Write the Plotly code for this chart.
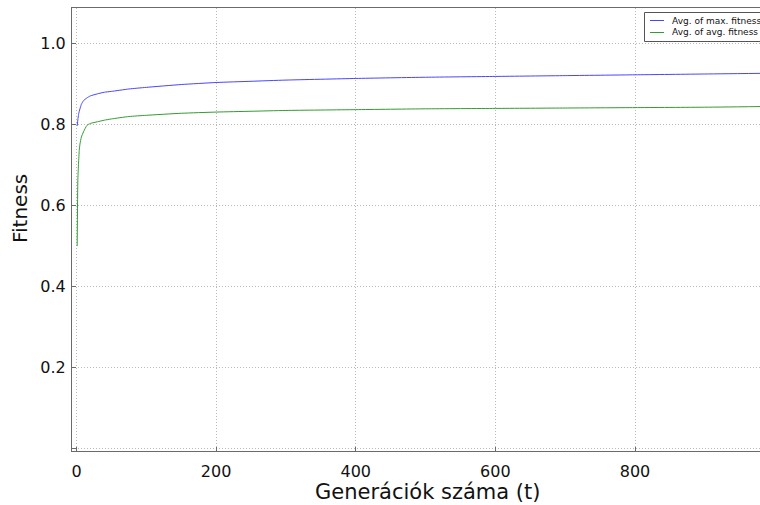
import plotly.graph_objects as go

generations = [1, 2, 3, 4, 5, 7, 10, 15, 20, 30, 40, 50, 75, 100, 150, 200,
               250, 300, 400, 500, 600, 700, 800, 900, 1000]
avg_max_fitness = [0.797, 0.812, 0.825, 0.833, 0.839, 0.850, 0.859, 0.866, 0.871,
                   0.876, 0.880, 0.882, 0.888, 0.892, 0.899, 0.904, 0.907, 0.910,
                   0.914, 0.917, 0.919, 0.921, 0.923, 0.925, 0.927]
avg_avg_fitness = [0.500, 0.665, 0.705, 0.736, 0.752, 0.769, 0.782, 0.798, 0.803,
                   0.807, 0.811, 0.814, 0.820, 0.823, 0.828, 0.831, 0.833, 0.835,
                   0.837, 0.839, 0.840, 0.841, 0.842, 0.843, 0.845]
series_names = ["Avg. of max. fitness", "Avg. of avg. fitness"]
series_colors = ["rgb(70,70,255)", "rgb(50,155,50)"]
x_tick_vals = [0, 200, 400, 600, 800]
y_tick_vals = [0.0, 0.2, 0.4, 0.6, 0.8, 1.0]
y_tick_text = ["", "0.2", "0.4", "0.6", "0.8", "1.0"]
x_title = "Generációk száma (t)"
y_title = "Fitness"

FONT = "DejaVu Sans"
W, H = 760, 505
ML, MR, MT, MB = 72, 0, 8, 54
PW, PH = W - ML - MR, H - MT - MB


def px_x(p):
    return (p - ML) / PW


def px_y(p):
    return (H - MB - p) / PH


fig = go.Figure()
for name, ys, col in zip(series_names, [avg_max_fitness, avg_avg_fitness], series_colors):
    fig.add_trace(go.Scatter(x=generations, y=ys, mode="lines", name=name,
                             line=dict(color=col, width=1, shape="spline", smoothing=0.5),
                             showlegend=False))

axis_common = dict(
    showgrid=True, gridcolor="rgb(185,185,185)", griddash="1px,2px", gridwidth=1,
    zeroline=False, showline=True, linecolor="#6a6a6a", linewidth=1,
    ticks="inside", ticklen=4, tickcolor="#6a6a6a",
    tickfont=dict(family=FONT, size=16, color="#111111"),
)

# Legend drawn as a boxed key in the top-right corner (paper coordinates)
shapes = [dict(type="rect", xref="paper", yref="paper",
               x0=px_x(644.5), x1=px_x(800), y0=px_y(41.5), y1=px_y(12.5),
               line=dict(color="#555555", width=1), fillcolor="white", layer="above")]
annotations = []
for i, (name, col) in enumerate(zip(series_names, series_colors)):
    yy = 20.5 + 12 * i
    shapes.append(dict(type="line", xref="paper", yref="paper",
                       x0=px_x(650), x1=px_x(664), y0=px_y(yy), y1=px_y(yy),
                       line=dict(color=col, width=1), layer="above"))
    annotations.append(dict(text=name, xref="paper", yref="paper",
                            x=px_x(670), y=px_y(yy), xanchor="left", yanchor="middle",
                            showarrow=False,
                            font=dict(family=FONT, size=9, color="#111111")))

annotations += [
    dict(text=y_title, xref="paper", yref="paper", x=px_x(20), y=px_y(209),
         textangle=-90, showarrow=False, xanchor="center", yanchor="middle",
         font=dict(family=FONT, size=20, color="#111111")),
    dict(text=x_title, xref="paper", yref="paper", x=px_x(427.5), y=px_y(492),
         showarrow=False, xanchor="center", yanchor="middle",
         font=dict(family=FONT, size=21, color="#111111")),
]

fig.update_layout(
    width=W, height=H,
    margin=dict(l=ML, r=MR, t=MT, b=MB, autoexpand=False),
    paper_bgcolor="white", plot_bgcolor="white",
    font=dict(family=FONT, color="#111111"),
    xaxis=dict(range=[-6.4, 979], tickvals=x_tick_vals, mirror=True,
               ticklabelstandoff=6, **axis_common),
    yaxis=dict(range=[-0.006, 1.088], tickvals=y_tick_vals, ticktext=y_tick_text,
               ticklabelstandoff=2, **axis_common),
    showlegend=False,
    shapes=shapes,
    annotations=annotations,
)

fig.write_html("out.html")
